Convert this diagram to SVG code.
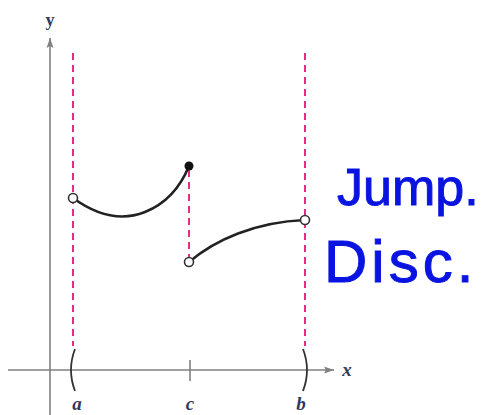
<svg xmlns="http://www.w3.org/2000/svg" width="486" height="415" viewBox="0 0 486 415">
<style>
.axis{stroke:#808080;stroke-width:1.6;fill:none}
.dash{stroke:#ec2a86;stroke-width:2;stroke-dasharray:7,5;fill:none}
.curve{stroke:#222;stroke-width:2.6;fill:none;stroke-linecap:round}
.open{fill:#fff;stroke:#333;stroke-width:1.6}
.lbl{font-family:"Liberation Sans",sans-serif;font-family:"Liberation Serif",serif;font-style:italic;font-weight:bold;font-size:19px;fill:#2f3a5c;text-anchor:middle}
.hand{font-family:"Liberation Sans",sans-serif;fill:#0a14e0;stroke:#0a14e0;stroke-width:1}
</style>
<defs>
<marker id="arr" viewBox="0 0 10 10" refX="10" refY="5" markerWidth="10" markerHeight="10" markerUnits="userSpaceOnUse" orient="auto">
<path d="M0,1.5 L10,5 L0,8.5 L2,5 Z" fill="#808080"/>
</marker>
</defs>
<g id="axes">
<line class="axis" x1="50" y1="415" x2="50" y2="38" marker-end="url(#arr)"/>
<line class="axis" x1="8" y1="370" x2="334" y2="370" marker-end="url(#arr)"/>
<line class="axis" x1="190" y1="360" x2="190" y2="381"/>
<text x="50" y="26" style="font-family:'Liberation Serif',serif;font-weight:bold;font-size:18px;fill:#2f3a5c" text-anchor="middle">y</text>
<text x="347" y="376" style="font-family:'Liberation Serif',serif;font-style:italic;font-weight:bold;font-size:19px;fill:#2f3a5c" text-anchor="middle">x</text>
</g>
<g id="connectors">
<line class="dash" x1="73" y1="53" x2="73" y2="346"/>
<line class="dash" x1="305" y1="53" x2="305" y2="346"/>
<line class="dash" x1="189" y1="170" x2="189" y2="258"/>
<path class="curve" d="M73,198 C95,214 120,222 145,212 C165,204 180,188 189,166"/>
<path class="curve" d="M189,262 C215,240 255,222 305,220"/>
<path d="M75,349 Q67,370 75,391" stroke="#333" stroke-width="1.8" fill="none"/>
<path d="M303,349 Q311,370 303,391" stroke="#333" stroke-width="1.8" fill="none"/>
</g>
<g id="point-a"><circle class="open" cx="73" cy="198" r="4.5"/></g>
<g id="point-c-top"><circle cx="189" cy="166" r="4.5" fill="#111"/></g>
<g id="point-c-bottom"><circle class="open" cx="189" cy="262" r="4.5"/></g>
<g id="point-b"><circle class="open" cx="305" cy="220" r="4.5"/></g>
<g id="labels">
<text class="lbl" x="77" y="410">a</text>
<text class="lbl" x="190" y="410">c</text>
<text class="lbl" x="301" y="410">b</text>
</g>
<g id="note">
<text class="hand" x="337" y="205" font-size="52">Jump.</text>
<text class="hand" x="324" y="282" font-size="60" letter-spacing="4">Disc.</text>
</g>
</svg>
